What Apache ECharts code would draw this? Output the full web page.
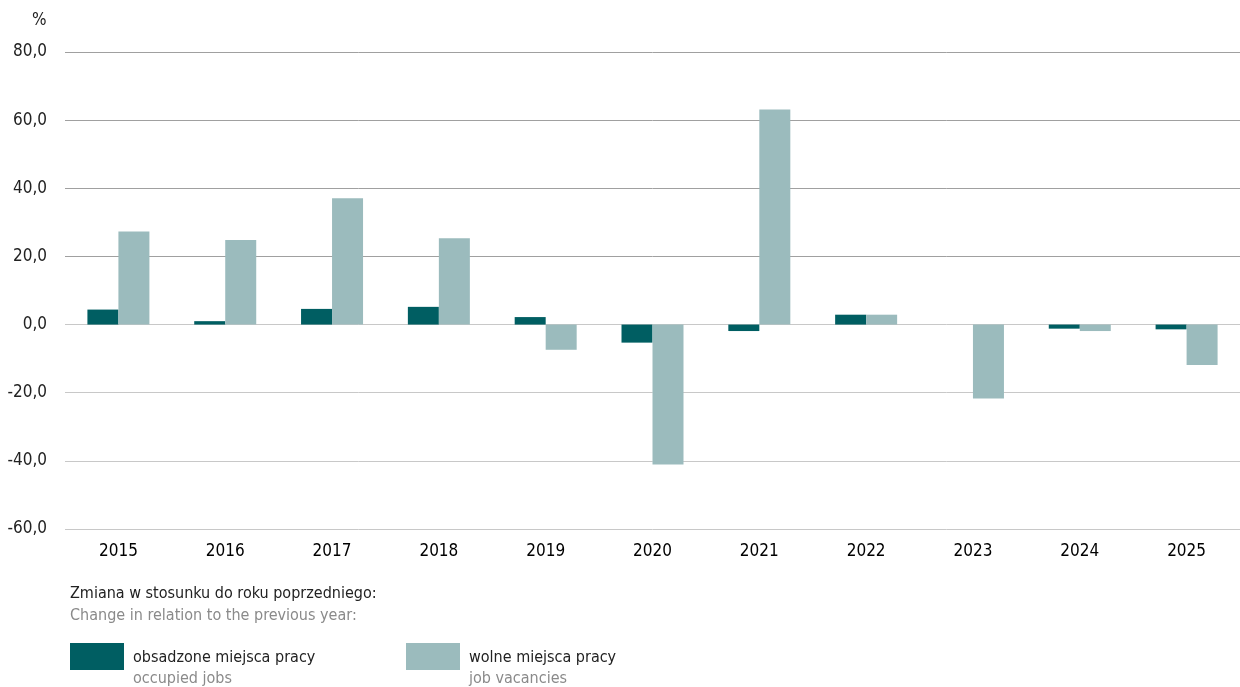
<!DOCTYPE html>
<html><head><meta charset="utf-8">
<script src="https://cdn.jsdelivr.net/npm/echarts@6/dist/echarts.min.js"></script>
<style>html,body{margin:0;padding:0;background:#fff}#c{width:1240px;height:687px}</style>
</head><body><div id="c"></div>
<script>
const years = ['2015','2016','2017','2018','2019','2020','2021','2022','2023','2024','2025'];
const occupiedJobs = [4.4, 1.0, 4.6, 5.2, 2.2, -5.3, -1.9, 2.9, 0.0, -1.2, -1.4];
const jobVacancies = [27.3, 24.8, 37.1, 25.3, -7.4, -41.1, 63.1, 2.9, -21.7, -1.9, -11.9];
const seriesNamesPL = ['obsadzone miejsca pracy', 'wolne miejsca pracy'];
const seriesNamesEN = ['occupied jobs', 'job vacancies'];
const FONT = '"DejaVu Sans Condensed", "Liberation Sans Narrow", sans-serif';
const chart = echarts.init(document.getElementById('c'));
const legendText = (n) => {
  const i = seriesNamesPL.indexOf(n);
  return '{a|' + n + '}\n{b|' + seriesNamesEN[i] + '}';
};
const legendRich = {
  a: {fontFamily: FONT, fontSize: 16, color: '#222', lineHeight: 21, padding: [0, 0, 0, 4]},
  b: {fontFamily: FONT, fontSize: 16, color: '#8a8a8a', lineHeight: 21, padding: [0, 0, 0, 4]}
};
chart.setOption({
  animation: false,
  backgroundColor: '#fff',
  title: [
    {text: '%', left: 27, top: 7, textStyle: {fontFamily: FONT, fontSize: 17, fontWeight: 'normal', color: '#222'}},
    {text: 'Zmiana w stosunku do roku poprzedniego:', subtext: 'Change in relation to the previous year:',
     left: 65, top: 581, itemGap: 6,
     textStyle: {fontFamily: FONT, fontSize: 16, fontWeight: 'normal', color: '#222'},
     subtextStyle: {fontFamily: FONT, fontSize: 16, color: '#8a8a8a'}}
  ],
  legend: [
    {data: [seriesNamesPL[0]], left: 65, top: 638, itemWidth: 54, itemHeight: 27, itemGap: 0,
     icon: 'rect', formatter: legendText, textStyle: {rich: legendRich, padding: [24, 0, 0, 0]}},
    {data: [seriesNamesPL[1]], left: 401, top: 638, itemWidth: 54, itemHeight: 27, itemGap: 0,
     icon: 'rect', formatter: legendText, textStyle: {rich: legendRich, padding: [24, 0, 0, 0]}}
  ],
  grid: {left: 65, right: 0, top: 52, bottom: 158, containLabel: false},
  xAxis: {
    type: 'category', data: years,
    axisLine: {show: false}, axisTick: {show: false},
    axisLabel: {fontFamily: FONT, fontSize: 17, color: '#000', margin: 14}
  },
  yAxis: {
    type: 'value', min: -60, max: 80, interval: 20,
    axisLine: {show: false}, axisTick: {show: false},
    axisLabel: {fontFamily: FONT, fontSize: 17, color: '#222', margin: 18,
      formatter: v => v.toFixed(1).replace('.', ',')},
    splitLine: {lineStyle: {color: ['#c8c8c8','#c8c8c8','#c8c8c8','#c8c8c8','#a0a0a0','#a0a0a0','#a0a0a0','#a0a0a0'], width: 1}}
  },
  series: [
    {name: seriesNamesPL[0], type: 'bar', data: occupiedJobs, barWidth: 31, barGap: '0%',
     itemStyle: {color: '#005e62'}},
    {name: seriesNamesPL[1], type: 'bar', data: jobVacancies, barWidth: 31, barGap: '0%',
     itemStyle: {color: '#9bbbbd'}}
  ]
});
</script>
</body></html>
